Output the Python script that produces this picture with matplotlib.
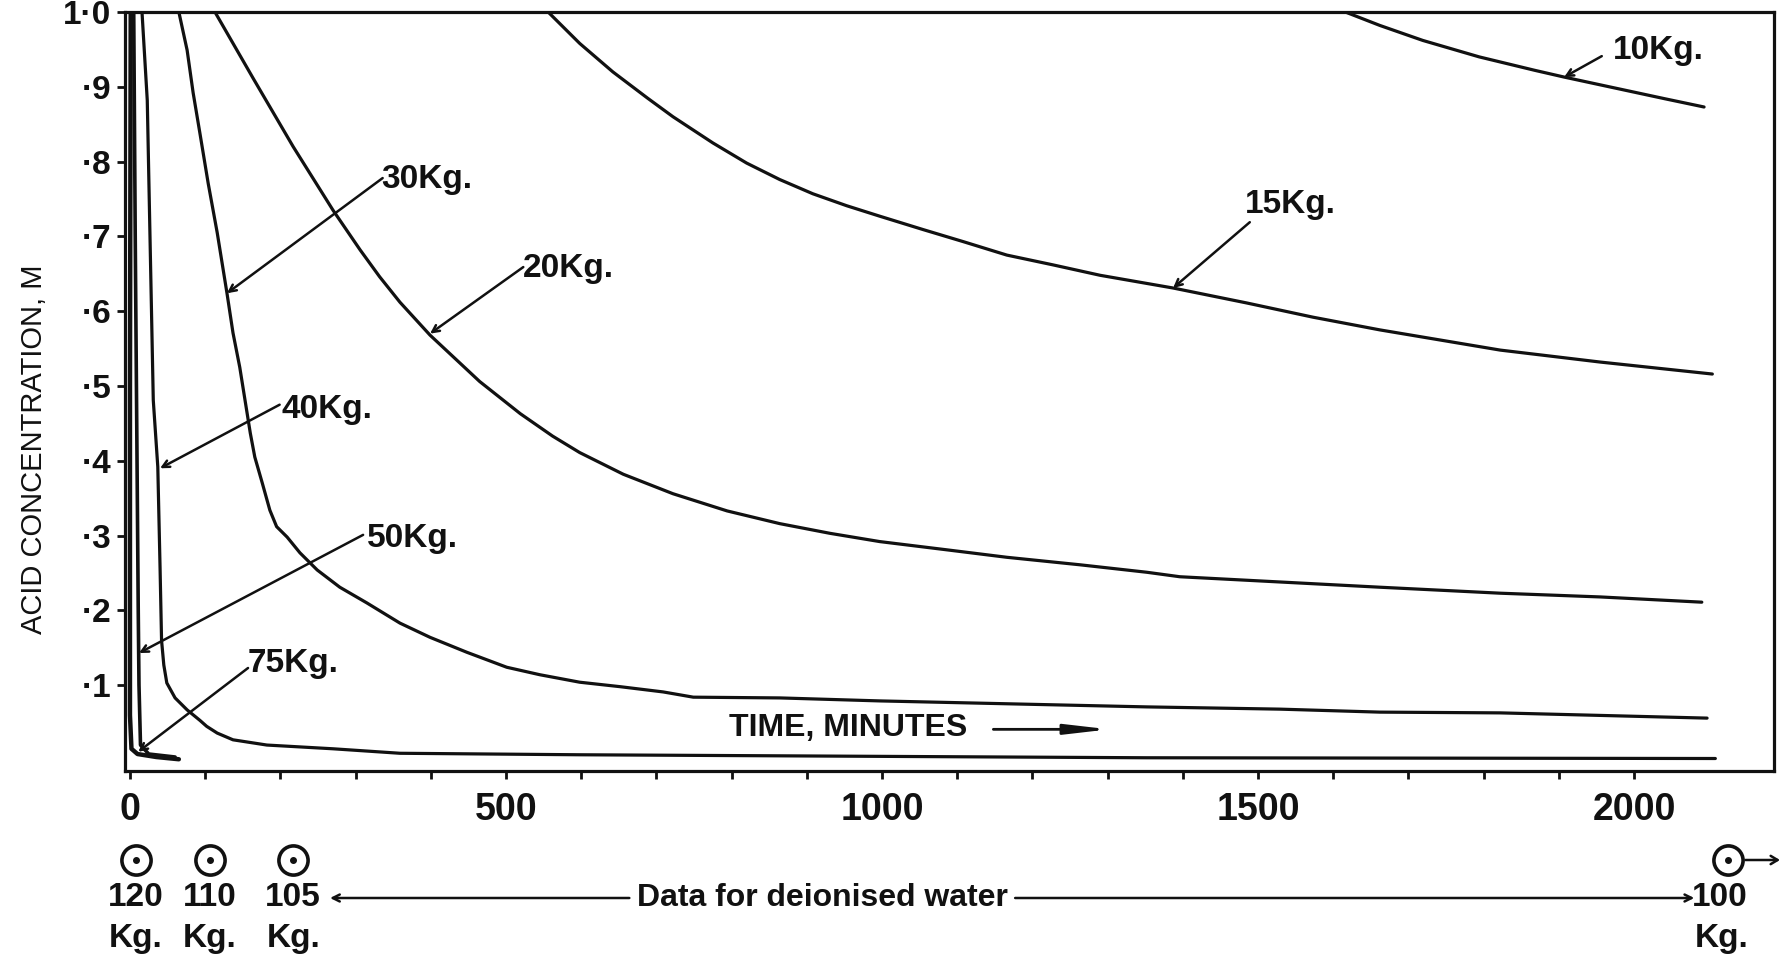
import numpy as np
import matplotlib
matplotlib.use("Agg")
from matplotlib import pyplot as plt
from matplotlib.transforms import blended_transform_factory

plt.rcParams['font.family'] = ['Liberation Sans', 'DejaVu Sans']

# acid concentration (M) against time (min), one curve per charge
t_10 = [1616, 1662, 1719, 1794, 1868, 1907, 1967, 2041, 2093]
c_10 = [1.0, 0.982, 0.962, 0.940, 0.922, 0.913, 0.900, 0.884, 0.873]

t_15 = [556, 598, 642, 688, 722, 775, 820, 864, 908, 953, 997, 1055, 1108, 1166, 1227, 1290,
        1387, 1485, 1573, 1662, 1822, 1955, 2104]
c_15 = [1.0, 0.958, 0.920, 0.885, 0.860, 0.825, 0.798, 0.776, 0.757, 0.741, 0.727, 0.709,
        0.693, 0.675, 0.662, 0.648, 0.631, 0.611, 0.592, 0.575, 0.548, 0.532, 0.516]

t_20 = [113, 164, 217, 270, 306, 332, 359, 399, 465, 519, 562, 598, 656, 722, 794, 864, 931,
        997, 1086, 1166, 1263, 1352, 1396, 1529, 1662, 1822, 1955, 2090]
c_20 = [1.0, 0.911, 0.820, 0.735, 0.682, 0.646, 0.612, 0.568, 0.506, 0.463, 0.433, 0.411,
        0.382, 0.356, 0.333, 0.316, 0.303, 0.292, 0.281, 0.271, 0.261, 0.251, 0.245, 0.238,
        0.231, 0.223, 0.218, 0.211]

t_30 = [65, 76, 84, 93, 104, 116, 129, 137, 146, 153, 160, 166, 176, 186, 195, 209, 226, 249,
        279, 315, 359, 399, 448, 501, 545, 598, 652, 709, 749, 864, 997, 1174, 1352, 1529,
        1662, 1822, 2097]
c_30 = [1.0, 0.949, 0.892, 0.838, 0.771, 0.705, 0.624, 0.571, 0.525, 0.481, 0.437, 0.405,
        0.370, 0.334, 0.312, 0.298, 0.277, 0.254, 0.231, 0.210, 0.183, 0.164, 0.144, 0.124,
        0.114, 0.104, 0.098, 0.091, 0.084, 0.083, 0.079, 0.075, 0.071, 0.068, 0.064, 0.063,
        0.056]

t_40 = [16, 23, 31, 37, 40, 42, 45, 49, 60, 76, 93, 102, 116, 137, 182, 270, 359, 598,
        1352, 2108]
c_40 = [1.0, 0.882, 0.481, 0.392, 0.258, 0.160, 0.127, 0.103, 0.083, 0.067, 0.053, 0.045,
        0.036, 0.027, 0.020, 0.015, 0.009, 0.007, 0.003, 0.002]

t_50 = [5, 7, 9, 11, 12, 14, 25, 60]
c_50 = [1.0, 0.7, 0.45, 0.2, 0.1, 0.02, 0.008, 0.004]

t_75 = [1, 0, 0, 2, 10, 35, 65]
c_75 = [1.0, 0.5, 0.06, 0.015, 0.008, 0.004, 0.001]

curves = [(t_10, c_10), (t_15, c_15), (t_20, c_20), (t_30, c_30),
          (t_40, c_40), (t_50, c_50), (t_75, c_75)]
widths = [2.3, 2.3, 2.3, 2.3, 2.3, 2.6, 3.2]

# curve labels: text (left, baseline), arrow tail, arrow tip
labels = ["10Kg.", "15Kg.", "20Kg.", "30Kg.", "40Kg.", "50Kg.", "75Kg."]
label_xy = [(1972, 0.937), (1483, 0.731), (523, 0.646), (334, 0.765),
            (202, 0.457), (315, 0.285), (156, 0.118)]
arrow_tail = [(1957, 0.941), (1489, 0.719), (523, 0.659), (336, 0.778),
              (199, 0.475), (310, 0.301), (157, 0.123)]
arrow_tip = [(1907, 0.913), (1387, 0.631), (399, 0.570), (129, 0.624),
             (40, 0.390), (12, 0.143), (11, 0.011)]

# deionised water points below the time axis
dw_kg = ["120", "110", "105"]
dw_time = [8, 106, 217]
dw_last_kg = "100"
dw_last_time = 2125

ink = '#111111'
arrow_kw = dict(arrowstyle='->,head_length=0.5,head_width=0.25', color=ink, lw=1.8,
                shrinkA=0, shrinkB=0)

fig = plt.figure(figsize=(17.83, 9.61), dpi=100)
ax = fig.add_axes([125 / 1783, 190 / 961, 1649 / 1783, 759 / 961])

for (t, c), w in zip(curves, widths):
    ax.plot(t, c, color=ink, lw=w, solid_joinstyle='round', solid_capstyle='round')

ax.set_xlim(-6.6, 2186)
ax.set_ylim(-0.0147, 1.0)

ax.set_xticks(np.arange(0, 2001, 500))
ax.set_xticks(np.arange(0, 2001, 100), minor=True)
ax.set_xticklabels([str(v) for v in range(0, 2001, 500)], fontsize=27, fontweight='bold')
yt = np.round(np.arange(0.1, 1.01, 0.1), 1)
ax.set_yticks(yt)
ax.set_yticklabels(["·%d" % round(v * 10) for v in yt[:-1]] + ["1·0"], fontsize=24, fontweight='bold')
ax.tick_params(axis='both', which='both', direction='out', length=6, width=2, color=ink, labelcolor=ink)
ax.tick_params(axis='x', pad=9)
ax.tick_params(axis='y', pad=4)
for s in ax.spines.values():
    s.set_linewidth(2.3)
    s.set_color(ink)

for lab, (lx, ly), tail, tip in zip(labels, label_xy, arrow_tail, arrow_tip):
    ax.text(lx, ly, lab, ha='left', va='baseline', fontsize=24, fontweight='bold', color=ink)
    ax.annotate("", xy=tip, xytext=tail, arrowprops=arrow_kw)

ax.text(955, 0.043, "TIME, MINUTES", ha='center', va='center', fontsize=23, fontweight='bold', color=ink)
ax.annotate("", xy=(1302, 0.041), xytext=(1148, 0.041),
            arrowprops=dict(arrowstyle='-|>,head_length=2.6,head_width=0.3', color=ink, lw=2,
                            shrinkA=0, shrinkB=0))

fig.text(34 / 1783, 1 - 449 / 961, "ACID CONCENTRATION, M", rotation=90, ha='center', va='center',
         fontsize=21, color=ink)

# the row beneath the axis: x in data, y in figure fraction
tr = blended_transform_factory(ax.transData, fig.transFigure)
y_circ, y_num, y_kg = 1 - 860 / 961, 1 - 898 / 961, 1 - 938 / 961
for t in dw_time + [dw_last_time]:
    ax.plot([t], [y_circ], marker='o', ms=21, mfc='white', mec=ink, mew=2.6,
            transform=tr, clip_on=False)
    ax.plot([t], [y_circ], marker='o', ms=4, color=ink, transform=tr, clip_on=False)
for t, kg in zip(dw_time, dw_kg):
    ax.text(t, y_num, kg, transform=tr, ha='center', va='center', fontsize=24, fontweight='bold', color=ink)
    ax.text(t, y_kg, "Kg.", transform=tr, ha='center', va='center', fontsize=24, fontweight='bold', color=ink)
ax.text(dw_last_time - 11, y_num, dw_last_kg, transform=tr, ha='center', va='center', fontsize=24,
        fontweight='bold', color=ink)
ax.text(dw_last_time - 8, y_kg, "Kg.", transform=tr, ha='center', va='center', fontsize=24,
        fontweight='bold', color=ink)

ax.text(921, y_num, "Data for deionised water", transform=tr, ha='center', va='center',
        fontsize=23, fontweight='bold', color=ink)
ax.annotate("", xy=(266, y_num), xytext=(664, y_num), xycoords=tr, textcoords=tr,
            arrowprops=arrow_kw, annotation_clip=False)
ax.annotate("", xy=(2080, y_num), xytext=(1177, y_num), xycoords=tr, textcoords=tr,
            arrowprops=arrow_kw, annotation_clip=False)
ax.annotate("", xy=(2194, y_circ), xytext=(2148, y_circ), xycoords=tr, textcoords=tr,
            arrowprops=dict(arrow_kw, arrowstyle='->,head_length=0.5,head_width=0.3'),
            annotation_clip=False)

fig.savefig("out.png", dpi=100)
